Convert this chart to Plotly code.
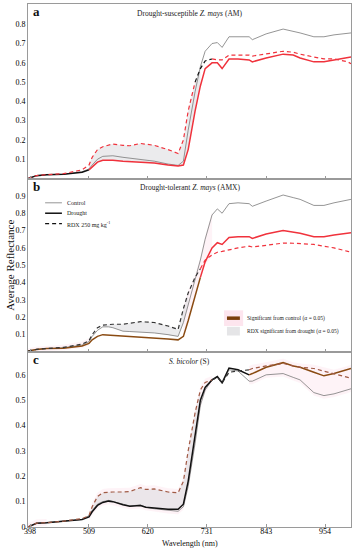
import plotly.graph_objects as go

# ---------------- data ----------------
wl = [394, 410, 429, 461, 496, 509, 515, 525, 535, 546, 554, 573, 586, 606, 616, 632, 658, 677, 687,
      696, 709, 719, 728, 741, 751, 760, 773, 790, 811, 817, 843, 875, 894, 907, 933, 952, 971, 997, 1003]

a_control = [0.0, 0.015, 0.02, 0.022, 0.035, 0.05, 0.07, 0.1, 0.115, 0.118, 0.118, 0.11, 0.105, 0.1, 0.095, 0.09, 0.075, 0.068, 0.09,
             0.25, 0.45, 0.58, 0.66, 0.7, 0.705, 0.68, 0.735, 0.735, 0.735, 0.72, 0.75, 0.775, 0.765, 0.755, 0.735, 0.735, 0.745, 0.75, 0.755]
a_drought = [0.0, 0.015, 0.02, 0.022, 0.033, 0.045, 0.06, 0.085, 0.095, 0.096, 0.095, 0.09, 0.088, 0.085, 0.083, 0.08, 0.07, 0.065, 0.07,
             0.15, 0.35, 0.48, 0.57, 0.6, 0.6, 0.57, 0.62, 0.62, 0.615, 0.605, 0.625, 0.645, 0.64, 0.625, 0.605, 0.605, 0.615, 0.625, 0.63]
a_rdx = [0.0, 0.015, 0.02, 0.025, 0.045, 0.07, 0.11, 0.15, 0.165, 0.175, 0.179, 0.172, 0.17, 0.182, 0.178, 0.172, 0.15, 0.13, 0.2,
         0.35, 0.5, 0.57, 0.61, 0.62, 0.615, 0.615, 0.64, 0.64, 0.64, 0.635, 0.645, 0.66, 0.655, 0.645, 0.63, 0.62, 0.62, 0.605, 0.595]

b_control = [0.005, 0.015, 0.02, 0.025, 0.04, 0.06, 0.09, 0.125, 0.145, 0.145, 0.14, 0.12, 0.118, 0.115, 0.113, 0.11, 0.1, 0.09, 0.17,
             0.27, 0.42, 0.53, 0.65, 0.79, 0.825, 0.8, 0.855, 0.86, 0.855, 0.84, 0.87, 0.905, 0.89, 0.88, 0.845, 0.845, 0.86, 0.875, 0.88]
b_drought = [0.005, 0.015, 0.02, 0.022, 0.035, 0.05, 0.07, 0.09, 0.1, 0.098, 0.097, 0.09, 0.089, 0.088, 0.085, 0.08, 0.075, 0.07, 0.09,
             0.18, 0.32, 0.43, 0.52, 0.6, 0.63, 0.62, 0.66, 0.665, 0.665, 0.655, 0.68, 0.7, 0.69, 0.685, 0.665, 0.665, 0.675, 0.685, 0.688]
b_rdx = [0.005, 0.015, 0.02, 0.027, 0.045, 0.065, 0.1, 0.14, 0.155, 0.16, 0.16, 0.16, 0.165, 0.175, 0.173, 0.17, 0.15, 0.13, 0.25,
         0.34, 0.43, 0.48, 0.53, 0.56, 0.575, 0.58, 0.59, 0.6, 0.61, 0.605, 0.615, 0.628, 0.627, 0.625, 0.62, 0.61, 0.6, 0.58, 0.575]

c_control = [0.0, 0.015, 0.017, 0.022, 0.03, 0.045, 0.065, 0.09, 0.1, 0.105, 0.1, 0.09, 0.083, 0.087, 0.078, 0.072, 0.065, 0.062, 0.08,
             0.16, 0.33, 0.48, 0.54, 0.58, 0.59, 0.565, 0.62, 0.615, 0.575, 0.575, 0.6, 0.605, 0.59, 0.58, 0.53, 0.518, 0.525, 0.54, 0.545]
c_drought = [0.0, 0.015, 0.017, 0.022, 0.03, 0.04, 0.06, 0.085, 0.097, 0.102, 0.1, 0.088, 0.082, 0.085, 0.078, 0.075, 0.07, 0.07, 0.09,
             0.18, 0.36, 0.5, 0.55, 0.58, 0.593, 0.569, 0.627, 0.62, 0.6, 0.605, 0.63, 0.648, 0.635, 0.63, 0.61, 0.596, 0.605, 0.62, 0.625]
c_rdx = [0.0, 0.015, 0.017, 0.023, 0.033, 0.045, 0.08, 0.12, 0.135, 0.138, 0.138, 0.138, 0.14, 0.155, 0.148, 0.15, 0.138, 0.135, 0.18,
         0.3, 0.45, 0.54, 0.57, 0.58, 0.59, 0.568, 0.61, 0.615, 0.62, 0.625, 0.635, 0.645, 0.635, 0.63, 0.625, 0.615, 0.605, 0.59, 0.585]

x_ticks = [398, 509, 620, 731, 843, 954]

panel_titles = ["Drought-susceptible <i>Z. mays</i> (AM)",
                "Drought-tolerant <i>Z. mays</i> (AMX)",
                "<i>S. bicolor</i> (S)"]
panel_letters = ["a", "b", "c"]

# significance segments: (start wl, end wl, colour key)
a_drought_seg = [(394, 509, "black"), (509, 1003, "red")]
a_rdx_seg = [(394, 709, "red"), (709, 741, "black"), (741, 1003, "red")]
b_drought_seg = [(394, 719, "brown"), (719, 1003, "red")]
b_rdx_seg = [(394, 719, "dark"), (719, 1003, "red")]
c_drought_seg = [(394, 811, "black"), (811, 1003, "brown")]
c_rdx_seg = [(394, 741, "rbrown"), (741, 811, "dark"), (811, 1003, "rbrown")]

# RDX-significant-from-drought fill ranges
a_fill = (509, 719)
b_fill = (535, 696)
c_fill = (509, 719)
# significant-from-control shading ranges
b_pink = [(394, 509), (687, 741)]
c_pink = [(394, 429), (509, 687), (687, 741), (811, 1003)]

COL = {"black": "#111111", "red": "#f0323c", "brown": "#8a4b12", "dark": "#333333", "rbrown": "#a05a44"}

fig = go.Figure()
serif = "Liberation Serif"

panels = [
    (a_control, a_drought, a_rdx, a_drought_seg, a_rdx_seg, a_fill, a_rdx, a_drought, [], "", [0, 0.905], [0.1, 0.2, 0.3, 0.4, 0.5, 0.6, 0.7, 0.8]),
    (b_control, b_drought, b_rdx, b_drought_seg, b_rdx_seg, b_fill, b_rdx, b_control, b_pink, "2", [0, 1.0], [0.1, 0.2, 0.3, 0.4, 0.5, 0.6, 0.7, 0.8, 0.9]),
    (c_control, c_drought, c_rdx, c_drought_seg, c_rdx_seg, c_fill, c_rdx, c_drought, c_pink, "3", [0, 0.69], [0, 0.1, 0.2, 0.3, 0.4, 0.5, 0.6]),
]


def sub(xs, ys, lo, hi):
    px, py = [], []
    for x, y in zip(xs, ys):
        if lo <= x <= hi:
            px.append(x)
            py.append(y)
    return px, py


for (ctrl, dr, rdx, dseg, rseg, frange, f1, f2, pinks, ax, yr, yt) in panels:
    xa = "x" + ax
    ya = "y" + ax
    for lo, hi in pinks:
        xs, c1 = sub(wl, ctrl, lo, hi)
        _, d1 = sub(wl, dr, lo, hi)
        _, r1 = sub(wl, rdx, lo, hi)
        top = [max(p, q, r) + 0.015 for p, q, r in zip(c1, d1, r1)]
        bot = [max(min(p, q, r) - 0.012, 0) for p, q, r in zip(c1, d1, r1)]
        fig.add_trace(go.Scatter(x=xs + xs[::-1], y=top + bot[::-1], fill="toself",
                                 fillcolor="rgba(253,232,240,0.5)", line=dict(width=0),
                                 mode="lines", hoverinfo="skip", showlegend=False, xaxis=xa, yaxis=ya))
    xs, u = sub(wl, f1, *frange)
    _, l = sub(wl, f2, *frange)
    fig.add_trace(go.Scatter(x=xs + xs[::-1], y=u + l[::-1], fill="toself",
                             fillcolor="rgba(222,222,225,0.6)", line=dict(width=0),
                             mode="lines", hoverinfo="skip", showlegend=False, xaxis=xa, yaxis=ya))
    fig.add_trace(go.Scatter(x=wl, y=ctrl, mode="lines", line=dict(color="#7a7a7a", width=0.8),
                             showlegend=False, xaxis=xa, yaxis=ya))
    for lo, hi, ck in dseg:
        xs, ys = sub(wl, dr, lo, hi)
        fig.add_trace(go.Scatter(x=xs, y=ys, mode="lines", line=dict(color=COL[ck], width=1.5),
                                 showlegend=False, xaxis=xa, yaxis=ya))
    for lo, hi, ck in rseg:
        xs, ys = sub(wl, rdx, lo, hi)
        fig.add_trace(go.Scatter(x=xs, y=ys, mode="lines", line=dict(color=COL[ck], width=1.2, dash="4px,3px"),
                                 showlegend=False, xaxis=xa, yaxis=ya))

doms = [[0.6663, 1.0], [0.3346, 0.6663], [0.0, 0.3346]]
layout = dict(
    width=357, height=550,
    margin=dict(l=28, r=6, t=4, b=23),
    plot_bgcolor="white", paper_bgcolor="white",
    font=dict(family=serif, color="#000", size=8),
    showlegend=False,
)
for i, (p, ax) in enumerate(zip(panels, ["", "2", "3"])):
    xk = "xaxis" + ax
    yk = "yaxis" + ax
    layout[xk] = dict(range=[394, 1003], tickvals=x_ticks, ticktext=[str(v) for v in x_ticks],
                      showticklabels=(i == 2), ticks="inside", ticklen=3, tickcolor="#999",
                      ticklabelstandoff=-4,
                      showline=True, linecolor="#9a9a9a", linewidth=1, mirror=True, showgrid=False,
                      zeroline=False, anchor="y" + ax, domain=[0, 1],
                      tickfont=dict(size=8, family=serif, color="#000"))
    layout[yk] = dict(range=p[10], tickvals=p[11], ticktext=[("0" if v == 0 else str(v)) for v in p[11]],
                      ticks="", showline=True, linecolor="#9a9a9a", linewidth=1, mirror=True,
                      showgrid=False, zeroline=False, anchor="x" + ax, domain=doms[i],
                      tickfont=dict(size=8, family=serif, color="#000"))
fig.update_layout(**layout)
fig.update_xaxes(matches="x")

ann = []
for i, ax in enumerate(["", "2", "3"]):
    ann.append(dict(text=panel_titles[i], xref="x%s domain" % ax, yref="y%s domain" % ax, x=0.5, y=0.985,
                    xanchor="center", yanchor="top", showarrow=False, font=dict(size=7.5, family=serif, color="#222")))
    ann.append(dict(text="<b>%s</b>" % panel_letters[i], xref="x%s domain" % ax, yref="y%s domain" % ax,
                    x=0.01, y=1.01, xanchor="left", yanchor="top", showarrow=False,
                    font=dict(size=13, family=serif, color="#111")))
ann.append(dict(text="Average Reflectance", xref="paper", yref="paper", x=-0.058, y=0.5, textangle=-90,
                xanchor="center", yanchor="middle", showarrow=False, font=dict(size=11, family=serif, color="#111")))
ann.append(dict(text="Wavelength (nm)", xref="paper", yref="paper", x=0.5, y=-0.0306,
                xanchor="center", yanchor="middle", showarrow=False, font=dict(size=8, family=serif, color="#111")))

# legend in panel b
leg_items = [("Control", "#7a7a7a", 0.8, "solid"), ("Drought", "#111111", 1.5, "solid"),
             ("RDX 250 mg kg<sup>-1</sup>", "#111111", 1.2, "4px,3px")]
shapes = []
for k, (txt, colr, w, dsh) in enumerate(leg_items):
    yy = 0.86 - k * 0.06
    shapes.append(dict(type="line", xref="x2 domain", yref="y2 domain", x0=0.053, x1=0.105, y0=yy, y1=yy,
                       line=dict(color=colr, width=w, dash=dsh)))
    ann.append(dict(text=txt, xref="x2 domain", yref="y2 domain", x=0.115, y=yy, xanchor="left",
                    yanchor="middle", showarrow=False, font=dict(size=6, family=serif, color="#222")))
shapes.append(dict(type="rect", xref="x2 domain", yref="y2 domain", x0=0.607, x1=0.666, y0=0.15, y1=0.24,
                   fillcolor="rgba(252,222,234,0.8)", line=dict(width=0)))
shapes.append(dict(type="line", xref="x2 domain", yref="y2 domain", x0=0.616, x1=0.656, y0=0.195, y1=0.195,
                   line=dict(color="#7a3d0a", width=3.5)))
shapes.append(dict(type="rect", xref="x2 domain", yref="y2 domain", x0=0.616, x1=0.656, y0=0.095, y1=0.145,
                   fillcolor="rgba(222,222,225,0.8)", line=dict(width=0)))
ann.append(dict(text="Significant from control (α = 0.05)", xref="x2 domain", yref="y2 domain", x=0.672, y=0.195,
                xanchor="left", yanchor="middle", showarrow=False, font=dict(size=5.6, family=serif, color="#222")))
ann.append(dict(text="RDX significant from drought (α = 0.05)", xref="x2 domain", yref="y2 domain", x=0.672, y=0.12,
                xanchor="left", yanchor="middle", showarrow=False, font=dict(size=5.6, family=serif, color="#222")))

fig.update_layout(annotations=ann, shapes=shapes)
fig.write_html("out.html", config={"displayModeBar": False},
               post_script="document.body.style.margin='0';document.body.style.padding='0';document.body.style.overflow='hidden';")
